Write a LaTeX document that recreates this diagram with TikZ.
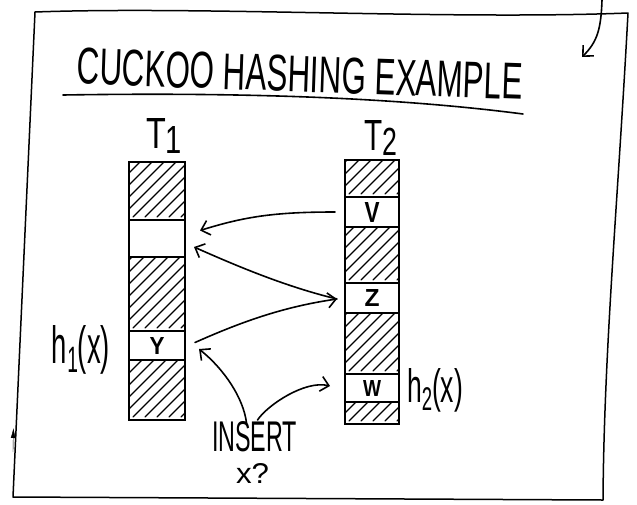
\documentclass[tikz,border=0pt]{standalone}
\usepackage{fontspec}
\setmainfont{Liberation Sans}
\usepackage{graphicx}
\usetikzlibrary{arrows.meta}

\begin{document}
\begin{tikzpicture}[x=1pt,y=-1pt,
  ink/.style={line cap=round,line join=round},
  framestroke/.style={ink,line width=1.5pt},
  slot/.style={draw,line width=1.8pt,inner sep=0pt,outer sep=0pt,font=\bfseries},
  colA/.style={slot,minimum width=56pt},
  colB/.style={slot,minimum width=54pt},
  hatched/.style={path picture={
    \foreach \k in {-7,...,5}{
      \draw[line width=1.1pt,line cap=round]
        ([xshift=\k*12pt+4pt,yshift=3pt]path picture bounding box.south west) -- ++(90,-90);
    }}},
  arr/.style={ink,line width=1.6pt,-{Straight Barb[length=8pt,width=15pt]}},
  lbl/.style={inner sep=0pt,outer sep=0pt}
]
\useasboundingbox (0,0) rectangle (637,504);

% sheet outline
\coordinate (tl) at (35,12);
\coordinate (tr) at (628,13);
\coordinate (br) at (603,500);
\coordinate (bl) at (13,497);
\draw[framestroke] (tl) .. controls (200,6) and (450,20) .. (tr)
  .. controls (618,200) and (604,350) .. (br) -- (bl) -- cycle;
\draw[-{Latex[length=10pt,width=5pt]}] (13,452) -- (13.4,428);

% arrow entering from above
\coordinate (topin) at (602,0);
\coordinate (topout) at (582,57);
\draw[arr] (topin) .. controls (601,30) and (597,42) .. (topout);

% title
\node[lbl,rotate=-2] (title) at (300,74)
  {\resizebox{446pt}{36pt}{CUCKOO HASHING EXAMPLE}};
\coordinate (ulA) at (63,95);
\coordinate (ulB) at (523,114);
\draw[ink,line width=1.6pt] (ulA) .. controls (250,92) and (400,98) .. (ulB);

% table T1
\node[colA,hatched,minimum height=58pt] (a1) at (157,191) {};
\node[colA,minimum height=37pt] (a2) at (157,238.5) {};
\node[colA,hatched,minimum height=74pt] (a3) at (157,294) {};
\node[colA,minimum height=29pt] (a4) at (157,345.5) {\resizebox{15pt}{17pt}{Y}};
\node[colA,hatched,minimum height=60pt] (a5) at (157,390) {};

% table T2
\node[colB,hatched,minimum height=37pt] (b1) at (372,178.5) {};
\node[colB,minimum height=30pt] (b2) at (372,212) {\resizebox{15pt}{20pt}{V}};
\node[colB,hatched,minimum height=56pt] (b3) at (372,255) {};
\node[colB,minimum height=30pt] (b4) at (372,298) {\resizebox{15pt}{17pt}{Z}};
\node[colB,hatched,minimum height=61pt] (b5) at (372,343.5) {};
\node[colB,minimum height=28pt] (b6) at (372,388) {\resizebox{18pt}{16pt}{W}};
\node[colB,hatched,minimum height=22pt] (b7) at (372,413) {};

% labels
\node[lbl,anchor=base west] (t1) at (146,148)
  {\resizebox{36pt}{30pt}{T\raisebox{-0.25ex}{\small 1}}};
\node[lbl,anchor=base west] (t2) at (364,150)
  {\resizebox{33pt}{30pt}{T\raisebox{-0.25ex}{\small 2}}};
\node[lbl,anchor=base west] (h1) at (52,363)
  {\resizebox{58pt}{38pt}{h\raisebox{-0.35ex}{\scriptsize 1}(x)}};
\node[lbl,anchor=base west] (h2) at (407,402)
  {\resizebox{56pt}{34pt}{h\raisebox{-0.35ex}{\scriptsize 2}(x)}};
\node[lbl,anchor=base west] (ins) at (212,451)
  {\resizebox{85pt}{30pt}{INSERT}};
\node[lbl,anchor=base west] (xq) at (236,483)
  {\resizebox{33pt}{20pt}{x?}};

% displacement arrows
\coordinate (vout) at ([xshift=-10pt]b2.west);
\coordinate (e1) at ([xshift=15pt,yshift=8pt]a2.east);
\coordinate (zpt) at ([xshift=-8pt,yshift=-1pt]b4.west);
\coordinate (e2) at ([xshift=9pt,yshift=-8.5pt]a2.east);
\coordinate (yout) at ([xshift=10pt,yshift=3pt]a4.east);
\coordinate (yin) at ([xshift=14pt,yshift=-3.5pt]a4.east);
\coordinate (winp) at ([xshift=-15pt,yshift=2pt]b6.west);
\coordinate (insA) at ([xshift=-8pt,yshift=-2pt]ins.north);
\coordinate (insB) at ([xshift=3pt,yshift=1pt]ins.north);

\draw[arr] (vout) .. controls +(-60,0) and +(45,-14) .. (e1);
\draw[arr] (zpt) .. controls +(-50,-12) and +(45,20) .. (e2);
\draw[arr] (yout) .. controls +(45,-20) and +(-55,8) .. (zpt);
\draw[arr] (insA) .. controls +(-3,-25) and +(25,20) .. (yin);
\draw[arr] (insB) .. controls +(10,-15) and +(-25,-6) .. (winp);

\end{tikzpicture}
\end{document}
